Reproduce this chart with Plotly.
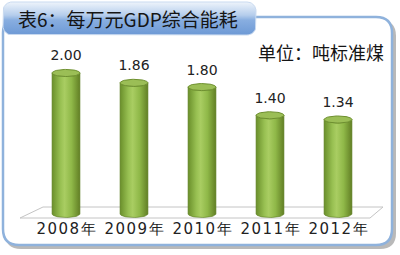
import numpy as np
import plotly.graph_objects as go

# ---- data ----
years = ["2008年", "2009年", "2010年", "2011年", "2012年"]
values = [2.00, 1.86, 1.80, 1.40, 1.34]
value_labels = ["2.00", "1.86", "1.80", "1.40", "1.34"]
title_text = "表6：每万元GDP综合能耗"
unit_text = "单位：吨标准煤"

W, H = 400, 255


def px(x):
    return x / W


def py(y):
    return 1 - y / H


def spaced(s):
    return "\u200a".join(list(s))


def rrect_pts(x0, y0, x1, y1, r, n=10):
    xs, ys = [], []
    corners = [(x1 - r, y0 + r, -np.pi / 2, 0), (x1 - r, y1 - r, 0, np.pi / 2),
               (x0 + r, y1 - r, np.pi / 2, np.pi), (x0 + r, y0 + r, np.pi, 1.5 * np.pi)]
    for cx, cy, a0, a1 in corners:
        t = np.linspace(a0, a1, n)
        xs += list(cx + r * np.cos(t))
        ys += list(cy + r * np.sin(t))
    xs.append(xs[0]); ys.append(ys[0])
    return xs, ys


def rrect_path(x0, y0, x1, y1, r):
    P = lambda x, y: f"{px(x):.5f},{py(y):.5f}"
    return (f"M {P(x0 + r, y0)} L {P(x1 - r, y0)} Q {P(x1, y0)} {P(x1, y0 + r)} "
            f"L {P(x1, y1 - r)} Q {P(x1, y1)} {P(x1 - r, y1)} L {P(x0 + r, y1)} "
            f"Q {P(x0, y1)} {P(x0, y1 - r)} L {P(x0, y0 + r)} Q {P(x0, y0)} {P(x0 + r, y0)} Z")


fig = go.Figure()

# ---- cylinders ----
hw = 0.205
ey = 0.05
body_scale = [[0, "#6a8f2b"], [0.3, "#98c052"], [0.45, "#a9cd62"], [0.7, "#8fb848"], [1, "#627f25"]]
for i, v in enumerate(values):
    t1 = np.linspace(np.pi, 2 * np.pi, 30)
    t2 = np.linspace(2 * np.pi, np.pi, 30)
    bx = list(i + hw * np.cos(t1)) + list(i + hw * np.cos(t2))
    by = list(0 + ey * np.sin(t1)) + list(v + ey * np.sin(t2))
    bx.append(bx[0]); by.append(by[0])
    fig.add_trace(go.Scatter(
        x=bx, y=by, mode="lines", fill="toself",
        fillgradient=dict(type="horizontal", colorscale=body_scale, start=i - hw, stop=i + hw),
        line=dict(width=0.6, color="#5e7f24"), hoverinfo="skip", showlegend=False))
    t = np.linspace(0, 2 * np.pi, 60)
    fig.add_trace(go.Scatter(
        x=i + hw * np.cos(t), y=v + ey * np.sin(t), mode="lines", fill="toself",
        fillcolor="#9bbe56", line=dict(width=1, color="#6e902f"),
        hoverinfo="skip", showlegend=False))

fig.add_trace(go.Scatter(
    x=list(range(len(values))), y=[v + 0.227 for v in values], mode="text",
    text=value_labels, textposition="middle center",
    textfont=dict(family="DejaVu Sans", size=14, color="#222222"),
    hoverinfo="skip", showlegend=False, cliponaxis=False))

# ---- title tab ----
tx, ty = rrect_pts(3, 2, 256, 35, 9)
fig.add_trace(go.Scatter(
    x=tx, y=ty, xaxis="x2", yaxis="y2", mode="lines", fill="toself",
    fillgradient=dict(type="vertical",
                      colorscale=[[0, "#eef4fb"], [0.4, "#b5cdec"], [0.55, "#88aee0"], [1, "#6d99d5"]],
                      start=2, stop=35),
    line=dict(width=1, color="#c9daf0"), hoverinfo="skip", showlegend=False))

shapes = [
    dict(type="path", path=rrect_path(5, 20, 396, 249, 16), xref="paper", yref="paper",
         fillcolor="#b9b9b9", line=dict(width=0), layer="below"),
    dict(type="path", path=rrect_path(3, 17, 392, 245, 16), xref="paper", yref="paper",
         fillcolor="#ffffff", line=dict(width=2.5, color="#8fb2dc"), layer="below"),
    dict(type="path",
         path=f"M {px(43)},{py(207)} L {px(383)},{py(207)} L {px(370)},{py(218)} L {px(20)},{py(218)} Z",
         xref="paper", yref="paper", fillcolor="#ffffff",
         line=dict(width=1, color="#c4c4c4"), layer="below"),
]

annotations = [
    dict(text=title_text, x=px(128), y=py(19), xref="paper", yref="paper", showarrow=False,
         font=dict(family="Noto Sans CJK SC", size=19, color="#151515"), xanchor="center", yanchor="middle"),
    dict(text=unit_text, x=px(386), y=py(52), xref="paper", yref="paper", showarrow=False,
         font=dict(family="Noto Sans CJK SC", size=18, color="#151515"), xanchor="right", yanchor="middle"),
]

fig.update_layout(
    width=W, height=H, margin=dict(l=0, r=0, t=0, b=0),
    paper_bgcolor="#ffffff", plot_bgcolor="rgba(0,0,0,0)",
    shapes=shapes, annotations=annotations, showlegend=False,
    xaxis=dict(domain=[px(32), px(372)], range=[-0.5, 4.5], tickmode="array",
               tickvals=list(range(len(years))), ticktext=[spaced(y) for y in years],
               tickfont=dict(family="DejaVu Sans", size=15, color="#222222"),
               showgrid=False, zeroline=False, showline=False, ticks="", fixedrange=True),
    yaxis=dict(domain=[py(218.2), py(44)], range=[-0.06, 2.411], visible=False,
               showgrid=False, zeroline=False, fixedrange=True),
    xaxis2=dict(domain=[0, 1], range=[0, W], anchor="y2", visible=False, fixedrange=True),
    yaxis2=dict(domain=[0, 1], range=[H, 0], anchor="x2", visible=False, fixedrange=True),
)

fig.write_html("out.html")
